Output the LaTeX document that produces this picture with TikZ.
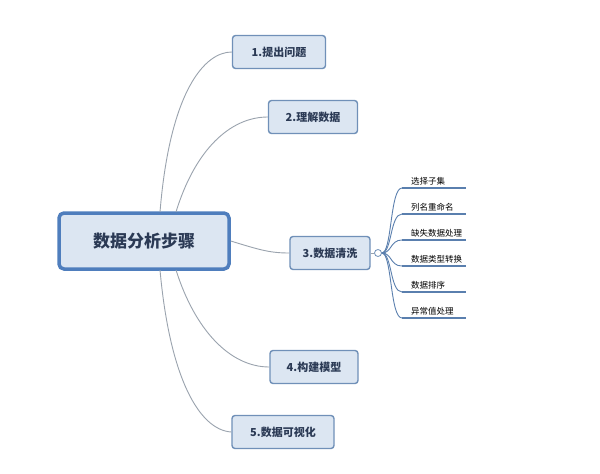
\documentclass[tikz,border=0pt]{standalone}
\usepackage{fontspec}
\newfontfamily\cjk{Noto Sans CJK SC}
\newfontfamily\cjkm{Noto Sans CJK SC Medium}
\definecolor{boxfill}{HTML}{DCE6F2}
\definecolor{boxline}{HTML}{7090B8}
\definecolor{mainline}{HTML}{4F7EBD}
\definecolor{txt}{HTML}{2B3A55}
\definecolor{conn}{HTML}{9AA3AE}
\definecolor{subline}{HTML}{5A7FAE}
\begin{document}
\begin{tikzpicture}[x=1pt,y=-1pt,
  topic/.style={draw=boxline,line width=1.4pt,fill=boxfill,rounded corners=3pt,inner sep=0pt,font=\cjk\bfseries\fontsize{11}{13}\selectfont,text=txt},
  mainbox/.style={draw=mainline,line width=3.5pt,fill=boxfill,rounded corners=5pt,inner sep=0pt,font=\cjk\bfseries\fontsize{17}{20}\selectfont,text=txt},
  conn/.style={draw=conn,line width=0.9pt},
  sub/.style={font=\cjk\fontsize{8.5}{10}\selectfont,text=black,anchor=south west,inner sep=1pt},
  subl/.style={draw=subline,line width=1.4pt}]
\fill[white] (0,0) rectangle (600,474);
\node[mainbox,minimum width=170pt,minimum height=56pt] (c) at (144,241) {数据分析步骤};
\node[topic,minimum width=93pt,minimum height=33pt] (t1) at (279,52) {1.提出问题};
\node[topic,minimum width=89pt,minimum height=33pt] (t2) at (313,117) {2.理解数据};
\node[topic,minimum width=80pt,minimum height=33pt] (t3) at (330,253) {3.数据清洗};
\node[topic,minimum width=88pt,minimum height=33pt] (t4) at (314,367) {4.构建模型};
\node[topic,minimum width=102pt,minimum height=33pt] (t5) at (283,432) {5.数据可视化};
\coordinate (c1) at (160,212);
\coordinate (c2) at (176,212);
\coordinate (c4) at (160,270);
\coordinate (c5) at (176,270);
\draw[conn] (c1) .. controls (170,90) and (205,52) .. (t1.west);
\draw[conn] (c2) .. controls (195,150) and (230,117) .. (t2.west);
\draw[conn] (c.east) .. controls (260,250) and (270,253) .. (t3.west);
\draw[conn] (c4) .. controls (170,380) and (200,430) .. (t5.west);
\draw[conn] (c5) .. controls (195,330) and (230,367) .. (t4.west);
\draw[conn] (t3.east) -- (374,253);
\node[draw=boxline,line width=0.8pt,circle,minimum size=7pt,inner sep=0pt,fill=white] (k) at (378,253) {};
\foreach \i/\y/\t in {1/188/选择子集,2/214/列名重命名,3/240/缺失数据处理,4/266/数据类型转换,5/292/数据排序,6/318/异常值处理}{
  \coordinate (s\i) at (402,\y);
  \coordinate (e\i) at (466,\y);
  \draw[subl] (s\i) -- (e\i);
  \draw[conn,draw=subline,line width=0.9pt] (k.east) .. controls (392,253) and (390,\y) .. (s\i);
  \node[sub] (n\i) at (410,\y-2) {\t};
}
\end{tikzpicture}
\end{document}
